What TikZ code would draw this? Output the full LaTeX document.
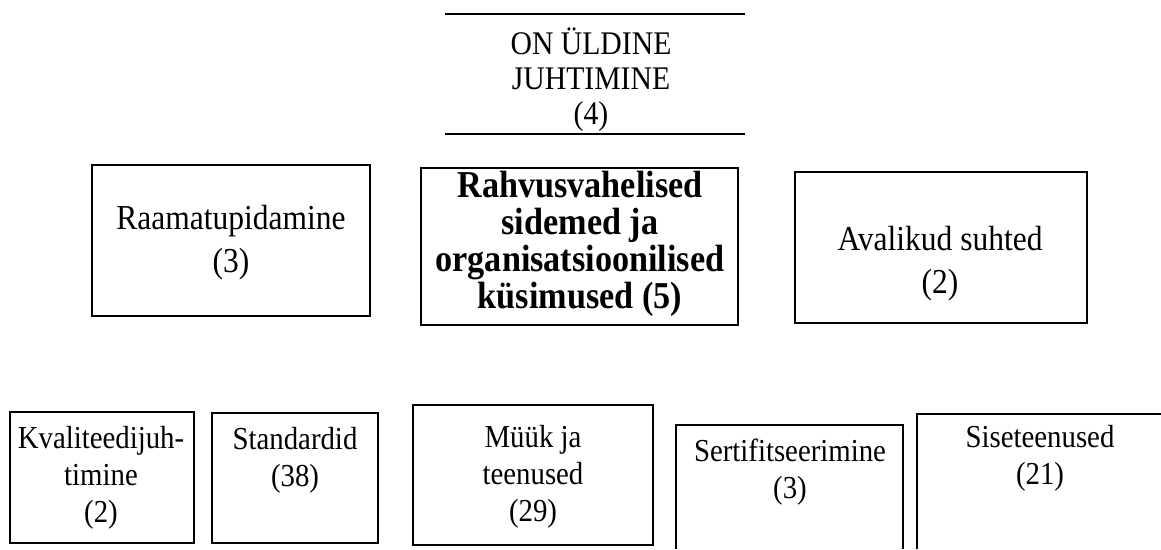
\documentclass[tikz,border=0pt]{standalone}
\usepackage{fontspec}
\setmainfont{Liberation Serif}
\newfontfamily\tallserif[FakeStretch=0.9]{Liberation Serif}
\begin{document}
\begin{tikzpicture}[x=1pt,y=-1pt,
  frame/.style={inner sep=0pt, outer sep=0pt, anchor=north west},
  box/.style={frame, draw, line width=1.8pt},
  edge/.style={line width=1.8pt},
  lbl/.style={align=center, inner sep=0pt},
  topfont/.style={font=\tallserif\fontsize{33}{35}\selectfont},
  midfont/.style={font=\tallserif\fontsize{35}{43}\selectfont},
  boldfont/.style={font=\tallserif\fontsize{38}{37}\selectfont\bfseries},
  lowfont/.style={font=\tallserif\fontsize{32}{37}\selectfont}]
\useasboundingbox (0,0) rectangle (1161,549);

% top
\node[frame, minimum width=300pt, minimum height=120pt] (topbox) at (445,14) {};
\draw[edge] (topbox.north west) -- (topbox.north east);
\draw[edge] (topbox.south west) -- (topbox.south east);
\node[lbl, topfont] (toptxt) at (591,80) {ON ÜLDINE\\JUHTIMINE\\(4)};

% middle row
\node[box, minimum width=278pt, minimum height=151pt] (raam) at (92,165) {};
\node[lbl, midfont] (raamtxt) at (231,243) {Raamatupidamine\\(3)};

\node[box, minimum width=317pt, minimum height=157pt] (rahv) at (421,168) {};
\node[lbl, boldfont] (rahvtxt) at (580,244) {Rahvusvahelised\\sidemed ja\\organisatsioonilised\\küsimused (5)};

\node[box, minimum width=292pt, minimum height=151pt] (aval) at (795,172) {};
\node[lbl, midfont] (avaltxt) at (940,264) {Avalikud suhted\\(2)};

% bottom row
\node[box, minimum width=184pt, minimum height=131pt] (kval) at (10,412) {};
\node[lbl, lowfont] (kvaltxt) at (101,478) {Kvaliteedijuh-\\timine\\(2)};

\node[box, minimum width=166pt, minimum height=130pt] (stan) at (212,413) {};
\node[lbl, lowfont] (stantxt) at (295,460) {Standardid\\(38)};

\node[box, minimum width=240pt, minimum height=140pt] (muuk) at (413,405) {};
\node[lbl, lowfont] (muuktxt) at (533,477) {Müük ja\\teenused\\(29)};

\node[frame, minimum width=227pt, minimum height=124pt] (sert) at (676,425) {};
\draw[edge] (sert.south west) -- (sert.north west) -- (sert.north east) -- (sert.south east);
\node[lbl, lowfont] (serttxt) at (790,472) {Sertifitseerimine\\(3)};

\node[frame, minimum width=244pt, minimum height=135pt] (sise) at (917,414) {};
\draw[edge] (sise.south west) -- (sise.north west) -- (sise.north east);
\node[lbl, lowfont] (sisetxt) at (1040,458) {Siseteenused\\(21)};
\end{tikzpicture}
\end{document}
